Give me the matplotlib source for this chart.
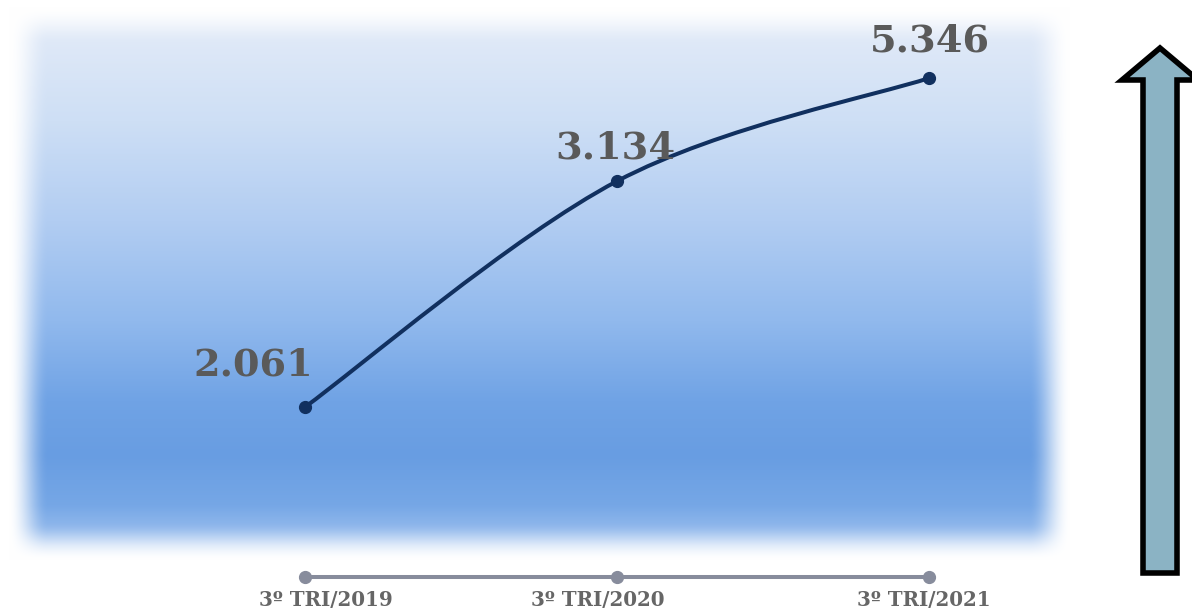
import numpy as np
import matplotlib
matplotlib.use("Agg")
import matplotlib.pyplot as plt
import matplotlib.transforms as mtransforms
from matplotlib.path import Path
from matplotlib.patches import PathPatch, Polygon

# quarterly values
periods = ["3º TRI/2019", "3º TRI/2020", "3º TRI/2021"]
values = [2061, 3134, 5346]
value_labels = ["2.061", "3.134", "5.346"]

W, H = 1192, 612
navy = "#11305f"
axis_gray = "#878c9c"
label_gray = "#5a5a5a"

fig = plt.figure(figsize=(W / 100, H / 100), dpi=100)
fig.patch.set_facecolor("white")

# soft-edged blue backdrop
bg = fig.add_axes([0, 0, 1, 1], zorder=0)
rows = np.arange(H)
stop_y = [30, 120, 220, 320, 400, 455, 505, 545]
stop_r = [225, 206, 178, 145, 112, 104, 118, 165]
stop_g = [234, 223, 205, 185, 163, 157, 167, 197]
stop_b = [248, 245, 242, 237, 229, 226, 230, 240]
col = np.stack([np.interp(rows, stop_y, c) for c in (stop_r, stop_g, stop_b)], axis=1) / 255


def ramp(d, width):
    t = np.clip(d / width, 0, 1)
    return t * t * (3 - 2 * t)


xx = np.arange(W)[None, :]
yy = rows[:, None]
alpha = ramp(xx - 8.0, 40) * ramp(1070.0 - xx, 42) * ramp(yy - 6.0, 38) * ramp(560.0 - yy, 38)
img = np.ones((H, W, 4))
img[..., :3] = col[:, None, :] * alpha[..., None] + (1 - alpha[..., None])
bg.imshow(img, aspect="auto", extent=(0, W, H, 0))
bg.set_xlim(0, W)
bg.set_ylim(H, 0)
bg.axis("off")


# value axis: strongly compressed towards the top
def fwd(v):
    return -(np.asarray(v, dtype=float) / 1000.0) ** -2.2


def inv(s):
    s = np.clip(np.asarray(s, dtype=float), None, -1e-9)
    return 1000.0 * (-s) ** (-1 / 2.2)


ax = fig.add_axes([20 / W, 35 / H, 1035 / W, 526 / H], zorder=1)
ax.patch.set_alpha(0)
ax.set_yscale("function", functions=(fwd, inv))
ax.set_xlim(-0.9135, 2.4038)
ax.set_ylim(1739, 8000)

x = np.arange(len(values))

# smooth line (Catmull-Rom -> cubic Bezier in scaled space)
pts = np.column_stack([x, fwd(values)])
ext = np.vstack([pts[0], pts, pts[-1]])
verts = [pts[0]]
codes = [Path.MOVETO]
for i in range(len(pts) - 1):
    p0, p1, p2, p3 = ext[i], ext[i + 1], ext[i + 2], ext[i + 3]
    c1 = p1 + (p2 - p0) / 6
    c2 = p2 - (p3 - p1) / 6
    verts += [c1, c2, p2]
    codes += [Path.CURVE4] * 3
verts = np.array(verts)
verts[:, 1] = inv(verts[:, 1])
ax.add_patch(PathPatch(Path(verts, codes), facecolor="none", edgecolor=navy,
                       lw=2.9, capstyle="round", transform=ax.transData, zorder=3))
ax.plot(x, values, "o", color=navy, ms=8.5, zorder=4)

offsets = [(-52, 32), (-2, 23), (1, 27)]
for xi, v, lab, off in zip(x, values, value_labels, offsets):
    ax.annotate(lab, (xi, v), xytext=off, textcoords="offset pixels",
                ha="center", va="baseline", fontsize=27.5, fontweight="bold",
                family="DejaVu Serif", color=label_gray, zorder=5)

# category axis
for side in ("left", "right", "top"):
    ax.spines[side].set_visible(False)
ax.spines["bottom"].set_bounds(0, 2)
ax.spines["bottom"].set_color(axis_gray)
ax.spines["bottom"].set_linewidth(2.9)
ax.plot(x, [1739] * len(x), "o", color=axis_gray, ms=8.5, clip_on=False, zorder=4)
ax.set_xticks(x)
ax.set_xticklabels(periods, fontsize=14.3, fontweight="bold", family="DejaVu Serif",
                   color="#666666")
ax.tick_params(axis="x", length=0, pad=9)
# the period labels sit slightly off their ticks
for lbl, dx in zip(ax.get_xticklabels(), [21, -19, -5]):
    lbl.set_transform(lbl.get_transform() +
                      mtransforms.ScaledTranslation(dx / 100, 0, fig.dpi_scale_trans))
ax.set_yticks([])
ax.yaxis.set_minor_locator(matplotlib.ticker.NullLocator())

# upward arrow on the right
arrow_px = [(1160, 48), (1198, 80), (1177, 80), (1177, 573), (1143, 573),
            (1143, 80), (1122, 80)]
arrow = Polygon([(px / W, 1 - py / H) for px, py in arrow_px], closed=True,
                facecolor="#8bb3c4", edgecolor="black", lw=4, joinstyle="miter",
                transform=fig.transFigure, zorder=2)
fig.add_artist(arrow)

fig.savefig("out.png", dpi=100)
